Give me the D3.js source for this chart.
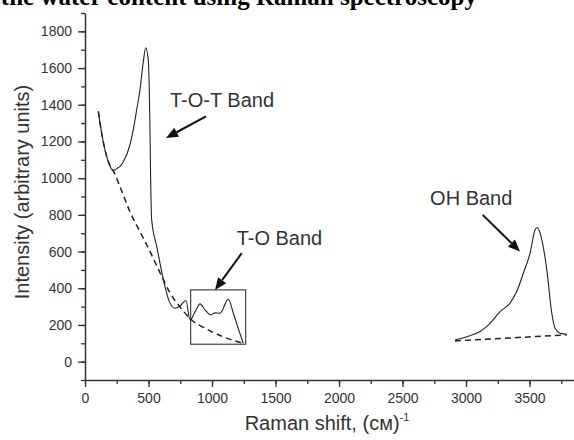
<!DOCTYPE html>
<html>
<head>
<meta charset="utf-8">
<script src="https://cdn.jsdelivr.net/npm/d3@7"></script>
<style>
    body { margin: 0; background: #fff; }
    text { font-family: "Liberation Sans", Arial, sans-serif; fill: #333; }
</style>
</head>
<body>
<svg id="raman-chart" width="574" height="440"></svg>
<script>
// spectrum (cm-1, arbitrary units)
const spectrumShift = [105, 131, 157, 183, 223, 250, 276, 302, 354, 380, 407, 433, 459, 478, 498, 512, 517, 525, 565, 630, 664, 709, 748, 795, 827, 866, 906, 945, 990, 1024, 1063, 1128, 1168, 1205, 1246];
const spectrumIntensity = [1364, 1246, 1155, 1091, 1041, 1052, 1064, 1089, 1182, 1264, 1373, 1482, 1635, 1711, 1646, 1248, 991, 773, 627, 409, 327, 291, 304, 333, 227, 271, 315, 282, 255, 266, 264, 340, 264, 184, 100];

const baselineShift = [105, 131, 157, 183, 223, 276, 354, 446, 486, 591, 669, 748, 840, 958, 1089, 1246];
const baselineIntensity = [1364, 1246, 1155, 1091, 1040, 953, 817, 691, 637, 484, 375, 298, 227, 178, 135, 100];

const ohShift = [2913, 3006, 3110, 3189, 3268, 3346, 3399, 3451, 3504, 3543, 3561, 3583, 3636, 3675, 3701, 3740, 3793];
const ohIntensity = [118, 136, 164, 209, 273, 319, 382, 482, 591, 718, 731, 700, 500, 264, 182, 155, 149];

const ohBaselineShift = [2913, 3793];
const ohBaselineIntensity = [113, 146];

const xTicks = [0, 500, 1000, 1500, 2000, 2500, 3000, 3500];
const yTicks = [0, 200, 400, 600, 800, 1000, 1200, 1400, 1600, 1800];

// band labels and arrows, in data units
const bandLabels = ["T-O-T Band", "T-O Band", "OH Band"];
const labelShift = [669, 1194, 2717];
const labelIntensity = [1390, 637, 855];
const arrowFrom = [[953, 1337], [1234, 591], [3131, 800]];
const arrowTo = [[638, 1219], [1024, 391], [3425, 600]];

// box round the T-O band
const boxShift = [832, 1265];
const boxIntensity = [95, 391];

const drawChart = () => {
    const svg = d3.select("#raman-chart");

    const xScale = d3.scaleLinear()
        .domain([0, 3850])
        .range([85, 574]);
    const yScale = d3.scaleLinear()
        .domain([-100, 1900])
        .range([380, 13]);

    // title, cut off at the top edge like in the source image
    svg.append("text")
        .attr("x", 477)
        .attr("y", 5)
        .attr("text-anchor", "end")
        .style("font-family", "'Liberation Serif', 'Times New Roman', serif")
        .style("font-weight", "bold")
        .style("font-size", "25px")
        .style("fill", "#000")
        .text("the water content using Raman spectroscopy");

    // minor ticks first, majors on top
    svg.append("g")
        .attr("transform", "translate(0,380)")
        .call(d3.axisBottom(xScale).tickValues(d3.range(0, 3851, 250)).tickSize(4).tickFormat(""))
        .call(g => g.select(".domain").remove());
    svg.append("g")
        .attr("transform", "translate(85,0)")
        .call(d3.axisLeft(yScale).tickValues(d3.range(-100, 1901, 100)).tickSize(4).tickFormat(""))
        .call(g => g.select(".domain").remove());

    const xAxisG = svg.append("g")
        .attr("class", "axis x-axis")
        .attr("transform", "translate(0,380)")
        .call(d3.axisBottom(xScale).tickValues(xTicks).tickFormat(d3.format("d")).tickSize(7).tickSizeOuter(0).tickPadding(6));
    const yAxisG = svg.append("g")
        .attr("class", "axis y-axis")
        .attr("transform", "translate(85,0)")
        .call(d3.axisLeft(yScale).tickValues(yTicks).tickFormat(d3.format("d")).tickSize(7).tickSizeOuter(0).tickPadding(6));

    svg.selectAll(".tick line").attr("stroke", "#333").attr("stroke-width", 1.3);
    svg.selectAll(".axis .domain").attr("stroke", "#333").attr("stroke-width", 1.5);
    svg.selectAll(".axis text")
        .style("font-family", "'Liberation Sans', Arial, sans-serif")
        .style("font-size", "14px")
        .style("fill", "#333");

    svg.append("text")
        .attr("transform", `rotate(-90)`)
        .attr("x", -192)
        .attr("y", 29)
        .attr("text-anchor", "middle")
        .style("font-size", "20px")
        .text("Intensity (arbitrary units)");

    const xTitle = svg.append("text")
        .attr("x", 327)
        .attr("y", 430)
        .attr("text-anchor", "middle")
        .style("font-size", "20px")
        .text("Raman shift, (см)");
    xTitle.append("tspan")
        .attr("dy", -9)
        .style("font-size", "11px")
        .text("-1");

    const line = d3.line()
        .x(d => xScale(d[0]))
        .y(d => yScale(d[1]))
        .curve(d3.curveMonotoneX);

    const drawSeries = (xs, ys, dashed, width) => {
        svg.append("path")
            .datum(xs.map((v, i) => [v, ys[i]]))
            .attr("fill", "none")
            .attr("stroke", "#222")
            .attr("stroke-width", width)
            .attr("stroke-dasharray", dashed ? "6,4" : null)
            .attr("d", line);
    };

    drawSeries(baselineShift, baselineIntensity, true, 1.5);
    drawSeries(ohBaselineShift, ohBaselineIntensity, true, 1.5);
    drawSeries(spectrumShift, spectrumIntensity, false, 1.1);
    drawSeries(ohShift, ohIntensity, false, 1.1);

    svg.append("rect")
        .attr("x", xScale(boxShift[0]))
        .attr("y", yScale(boxIntensity[1]))
        .attr("width", xScale(boxShift[1]) - xScale(boxShift[0]))
        .attr("height", yScale(boxIntensity[0]) - yScale(boxIntensity[1]))
        .attr("fill", "none")
        .attr("stroke", "#333")
        .attr("stroke-width", 1.1);

    svg.selectAll(".band-label")
        .data(bandLabels)
        .join("text")
        .attr("class", "band-label")
        .attr("x", (d, i) => xScale(labelShift[i]))
        .attr("y", (d, i) => yScale(labelIntensity[i]))
        .style("font-size", "20px")
        .text(d => d);

    // arrows: shaft plus a filled head
    arrowFrom.forEach((from, i) => {
        const x1 = xScale(from[0]), y1 = yScale(from[1]);
        const x2 = xScale(arrowTo[i][0]), y2 = yScale(arrowTo[i][1]);
        const angle = Math.atan2(y2 - y1, x2 - x1);
        const headLen = 12, headHalf = 5;
        const bx = x2 - headLen * Math.cos(angle), by = y2 - headLen * Math.sin(angle);
        svg.append("line")
            .attr("x1", x1).attr("y1", y1)
            .attr("x2", bx).attr("y2", by)
            .attr("stroke", "#111")
            .attr("stroke-width", 2);
        svg.append("path")
            .attr("d", `M${x2},${y2}L${bx - headHalf * Math.sin(angle)},${by + headHalf * Math.cos(angle)}L${bx + headHalf * Math.sin(angle)},${by - headHalf * Math.cos(angle)}Z`)
            .attr("fill", "#111");
    });
};

drawChart();
</script>
</body>
</html>
